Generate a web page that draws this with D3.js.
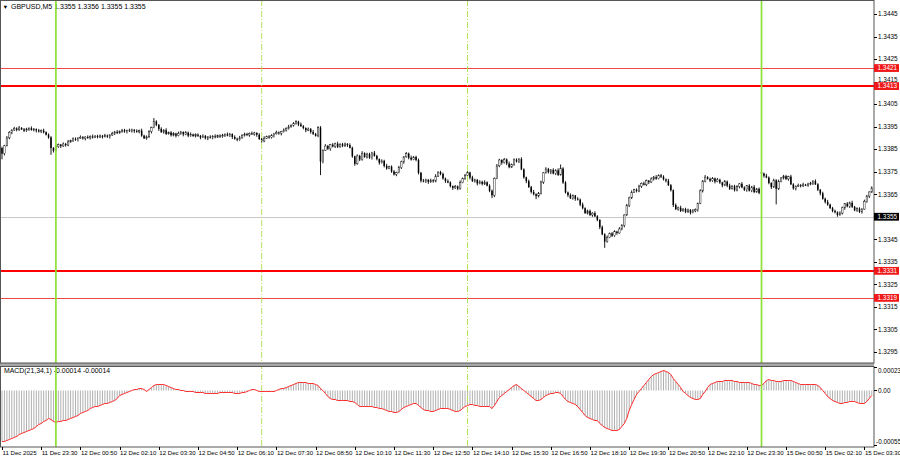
<!DOCTYPE html>
<html><head><meta charset="utf-8">
<script src="https://cdnjs.cloudflare.com/ajax/libs/d3/7.8.5/d3.min.js"></script>
<style>
body{margin:0;background:#fff}
svg{display:block}
text{font-family:"Liberation Sans",Arial,sans-serif}
</style></head>
<body><svg id="c" width="900" height="460"></svg>
<script>
// ---------- DATA ----------
const symbolTitle = "GBPUSD,M5";
const lastBarOHLC = ["1.3355","1.3356","1.3355","1.3355"];
const macdTitle = "MACD(21,34,1) -0.00014 -0.00014";

const timeLabels = ["11 Dec 2025","11 Dec 23:30","12 Dec 00:50","12 Dec 02:10","12 Dec 03:30","12 Dec 04:50","12 Dec 06:10","12 Dec 07:30","12 Dec 08:50","12 Dec 10:10","12 Dec 11:30","12 Dec 12:50","12 Dec 14:10","12 Dec 15:30","12 Dec 16:50","12 Dec 18:10","12 Dec 19:30","12 Dec 20:50","12 Dec 22:10","12 Dec 23:30","15 Dec 00:50","15 Dec 02:10","15 Dec 03:30"];
const daySeparators = ["12 Dec 00:00","15 Dec 00:00"];
const sessionMarks = ["12 Dec 07:00","12 Dec 14:00"];

const priceTicks = [1.3445,1.3435,1.3425,1.3415,1.3405,1.3395,1.3385,1.3375,1.3365,1.3355,1.3345,1.3335,1.3325,1.3315,1.3305,1.3295];
const strongLevels = [1.3413,1.3331];
const weakLevels = [1.3421,1.3319];
const bidPrice = 1.3355;
const macdTicks = [0.00023,0.00,-0.00055];
const macdTickLabels = ["0.00023","0.00","-0.00055"];

const open = [1.33855,1.33830,1.33865,1.33900,1.33925,1.33935,1.33942,1.33936,1.33944,1.33938,
1.33932,1.33939,1.33943,1.33935,1.33939,1.33933,1.33928,1.33932,1.33925,1.33914,
1.33902,1.33855,1.33843,1.33862,1.33870,1.33864,1.33873,1.33868,1.33882,1.33888,
1.33896,1.33892,1.33899,1.33903,1.33898,1.33904,1.33900,1.33906,1.33902,1.33908,
1.33904,1.33909,1.33905,1.33910,1.33906,1.33913,1.33920,1.33926,1.33922,1.33929,
1.33934,1.33928,1.33933,1.33930,1.33936,1.33931,1.33927,1.33932,1.33910,1.33898,
1.33905,1.33928,1.33946,1.33973,1.33958,1.33940,1.33926,1.33934,1.33918,1.33924,
1.33912,1.33919,1.33910,1.33920,1.33926,1.33916,1.33923,1.33910,1.33915,1.33908,
1.33914,1.33909,1.33902,1.33908,1.33899,1.33905,1.33901,1.33907,1.33903,1.33910,
1.33906,1.33912,1.33916,1.33910,1.33917,1.33904,1.33896,1.33892,1.33900,1.33912,
1.33917,1.33913,1.33920,1.33916,1.33922,1.33914,1.33895,1.33886,1.33898,1.33906,
1.33902,1.33910,1.33918,1.33924,1.33920,1.33928,1.33935,1.33942,1.33949,1.33956,
1.33964,1.33972,1.33960,1.33952,1.33944,1.33934,1.33939,1.33926,1.33918,1.33909,
1.33946,1.33795,1.33845,1.33864,1.33852,1.33870,1.33862,1.33874,1.33860,1.33872,
1.33865,1.33873,1.33868,1.33856,1.33818,1.33785,1.33820,1.33804,1.33832,1.33815,
1.33828,1.33812,1.33834,1.33820,1.33806,1.33790,1.33798,1.33776,1.33764,1.33772,
1.33751,1.33738,1.33746,1.33768,1.33794,1.33816,1.33830,1.33812,1.33804,1.33815,
1.33802,1.33745,1.33710,1.33706,1.33714,1.33705,1.33712,1.33708,1.33730,1.33748,
1.33740,1.33720,1.33708,1.33702,1.33686,1.33678,1.33684,1.33675,1.33702,1.33720,
1.33734,1.33746,1.33724,1.33708,1.33714,1.33698,1.33705,1.33696,1.33703,1.33688,
1.33665,1.33645,1.33720,1.33776,1.33802,1.33790,1.33804,1.33786,1.33770,1.33782,
1.33803,1.33796,1.33806,1.33760,1.33725,1.33708,1.33682,1.33660,1.33650,1.33642,
1.33654,1.33704,1.33745,1.33762,1.33748,1.33758,1.33742,1.33756,1.33736,1.33764,
1.33702,1.33658,1.33646,1.33632,1.33644,1.33630,1.33626,1.33604,1.33588,1.33566,
1.33576,1.33558,1.33566,1.33552,1.33536,1.33504,1.33472,1.33440,1.33458,1.33476,
1.33466,1.33484,1.33478,1.33496,1.33512,1.33558,1.33600,1.33634,1.33658,1.33670,
1.33664,1.33686,1.33698,1.33692,1.33710,1.33704,1.33718,1.33726,1.33719,1.33734,
1.33728,1.33716,1.33710,1.33690,1.33668,1.33602,1.33584,1.33590,1.33576,1.33584,
1.33572,1.33580,1.33568,1.33576,1.33582,1.33610,1.33665,1.33708,1.33726,1.33718,
1.33710,1.33720,1.33706,1.33714,1.33702,1.33690,1.33706,1.33688,1.33674,1.33686,
1.33668,1.33684,1.33696,1.33680,1.33670,1.33688,1.33666,1.33682,1.33660,1.33674,
1.33748,1.33742,1.33732,1.33724,1.33700,1.33682,1.33712,1.33674,1.33706,1.33722,
1.33730,1.33718,1.33728,1.33694,1.33676,1.33686,1.33690,1.33687,1.33692,1.33689,
1.33695,1.33699,1.33708,1.33694,1.33670,1.33654,1.33630,1.33616,1.33604,1.33588,
1.33576,1.33570,1.33558,1.33566,1.33590,1.33608,1.33596,1.33612,1.33594,1.33578,
1.33586,1.33572,1.33584,1.33618,1.33642,1.33660];

const high = [1.33861,1.33869,1.33908,1.33930,1.33938,1.33949,1.33947,1.33953,1.33948,1.33944,
1.33945,1.33947,1.33951,1.33944,1.33942,1.33940,1.33937,1.33941,1.33929,1.33920,
1.33908,1.33859,1.33870,1.33875,1.33873,1.33880,1.33878,1.33891,1.33892,1.33902,
1.33902,1.33903,1.33911,1.33908,1.33907,1.33911,1.33911,1.33915,1.33912,1.33914,
1.33915,1.33913,1.33918,1.33915,1.33916,1.33927,1.33931,1.33935,1.33933,1.33940,
1.33940,1.33937,1.33941,1.33941,1.33939,1.33938,1.33937,1.33941,1.33914,1.33911,
1.33934,1.33950,1.33988,1.33978,1.33961,1.33947,1.33939,1.33943,1.33928,1.33930,
1.33925,1.33923,1.33928,1.33931,1.33929,1.33930,1.33928,1.33924,1.33919,1.33920,
1.33920,1.33913,1.33916,1.33913,1.33908,1.33912,1.33912,1.33916,1.33914,1.33916,
1.33918,1.33920,1.33924,1.33922,1.33920,1.33911,1.33901,1.33909,1.33916,1.33923,
1.33923,1.33924,1.33928,1.33927,1.33925,1.33921,1.33900,1.33907,1.33910,1.33912,
1.33916,1.33922,1.33932,1.33929,1.33931,1.33942,1.33947,1.33958,1.33960,1.33970,
1.33978,1.33976,1.33968,1.33957,1.33947,1.33946,1.33944,1.33935,1.33922,1.33952,
1.33952,1.33849,1.33872,1.33869,1.33873,1.33877,1.33879,1.33883,1.33876,1.33878,
1.33879,1.33877,1.33876,1.33861,1.33821,1.33827,1.33825,1.33841,1.33836,1.33834,
1.33834,1.33838,1.33842,1.33825,1.33809,1.33805,1.33803,1.33785,1.33776,1.33778,
1.33757,1.33750,1.33776,1.33799,1.33819,1.33837,1.33835,1.33821,1.33819,1.33821,
1.33808,1.33749,1.33718,1.33719,1.33717,1.33719,1.33717,1.33739,1.33752,1.33754,
1.33746,1.33724,1.33716,1.33707,1.33689,1.33691,1.33689,1.33711,1.33724,1.33740,
1.33752,1.33750,1.33732,1.33719,1.33717,1.33712,1.33710,1.33712,1.33707,1.33694,
1.33671,1.33724,1.33784,1.33807,1.33805,1.33811,1.33809,1.33795,1.33786,1.33809,
1.33809,1.33810,1.33814,1.33765,1.33728,1.33715,1.33687,1.33669,1.33654,1.33660,
1.33710,1.33749,1.33770,1.33767,1.33761,1.33765,1.33761,1.33765,1.33782,1.33770,
1.33708,1.33662,1.33654,1.33649,1.33647,1.33637,1.33631,1.33613,1.33592,1.33582,
1.33582,1.33570,1.33574,1.33557,1.33539,1.33511,1.33477,1.33467,1.33480,1.33482,
1.33490,1.33488,1.33504,1.33517,1.33561,1.33607,1.33639,1.33667,1.33674,1.33676,
1.33692,1.33702,1.33706,1.33715,1.33713,1.33725,1.33731,1.33735,1.33738,1.33740,
1.33734,1.33720,1.33718,1.33695,1.33671,1.33609,1.33595,1.33599,1.33588,1.33590,
1.33586,1.33584,1.33584,1.33587,1.33613,1.33672,1.33713,1.33735,1.33730,1.33724,
1.33726,1.33724,1.33722,1.33719,1.33705,1.33713,1.33711,1.33697,1.33690,1.33692,
1.33690,1.33700,1.33704,1.33685,1.33691,1.33695,1.33687,1.33691,1.33678,1.33680,
1.33754,1.33746,1.33740,1.33729,1.33703,1.33719,1.33717,1.33715,1.33726,1.33736,
1.33736,1.33732,1.33736,1.33699,1.33689,1.33697,1.33695,1.33701,1.33696,1.33701,
1.33705,1.33712,1.33716,1.33699,1.33673,1.33661,1.33635,1.33625,1.33608,1.33594,
1.33582,1.33574,1.33574,1.33595,1.33611,1.33615,1.33617,1.33621,1.33598,1.33592,
1.33592,1.33588,1.33626,1.33647,1.33663,1.33685];

const low = [1.33805,1.33822,1.33862,1.33894,1.33916,1.33931,1.33929,1.33931,1.33935,1.33926,
1.33927,1.33931,1.33932,1.33929,1.33924,1.33924,1.33921,1.33920,1.33911,1.33896,
1.33825,1.33835,1.33840,1.33856,1.33855,1.33860,1.33861,1.33863,1.33879,1.33882,
1.33887,1.33884,1.33896,1.33892,1.33889,1.33896,1.33893,1.33897,1.33899,1.33898,
1.33899,1.33897,1.33902,1.33900,1.33897,1.33909,1.33913,1.33917,1.33919,1.33923,
1.33923,1.33920,1.33927,1.33924,1.33922,1.33923,1.33920,1.33905,1.33895,1.33892,
1.33900,1.33920,1.33943,1.33952,1.33931,1.33922,1.33919,1.33913,1.33915,1.33906,
1.33907,1.33902,1.33907,1.33914,1.33907,1.33912,1.33903,1.33905,1.33905,1.33902,
1.33904,1.33894,1.33899,1.33893,1.33890,1.33897,1.33894,1.33898,1.33900,1.33900,
1.33901,1.33904,1.33907,1.33904,1.33895,1.33892,1.33885,1.33887,1.33897,1.33906,
1.33908,1.33905,1.33913,1.33910,1.33905,1.33891,1.33879,1.33881,1.33895,1.33896,
1.33897,1.33902,1.33915,1.33914,1.33911,1.33924,1.33928,1.33937,1.33946,1.33950,
1.33959,1.33952,1.33949,1.33938,1.33925,1.33930,1.33919,1.33913,1.33906,1.33903,
1.33735,1.33787,1.33842,1.33846,1.33843,1.33858,1.33855,1.33855,1.33857,1.33859,
1.33860,1.33860,1.33853,1.33812,1.33776,1.33781,1.33797,1.33799,1.33812,1.33809,
1.33807,1.33804,1.33817,1.33800,1.33781,1.33786,1.33769,1.33759,1.33761,1.33745,
1.33733,1.33730,1.33743,1.33762,1.33785,1.33812,1.33805,1.33799,1.33801,1.33796,
1.33738,1.33702,1.33703,1.33700,1.33696,1.33701,1.33701,1.33703,1.33727,1.33734,
1.33715,1.33700,1.33699,1.33680,1.33669,1.33674,1.33668,1.33670,1.33699,1.33714,
1.33729,1.33716,1.33705,1.33702,1.33689,1.33694,1.33689,1.33691,1.33685,1.33659,
1.33633,1.33637,1.33717,1.33770,1.33781,1.33786,1.33779,1.33765,1.33767,1.33776,
1.33791,1.33788,1.33757,1.33719,1.33699,1.33678,1.33653,1.33645,1.33628,1.33636,
1.33649,1.33696,1.33742,1.33742,1.33739,1.33738,1.33735,1.33731,1.33733,1.33696,
1.33653,1.33638,1.33629,1.33626,1.33621,1.33622,1.33597,1.33583,1.33563,1.33560,
1.33553,1.33550,1.33549,1.33530,1.33495,1.33468,1.33412,1.33435,1.33455,1.33460,
1.33461,1.33470,1.33475,1.33490,1.33503,1.33554,1.33593,1.33629,1.33655,1.33658,
1.33659,1.33678,1.33689,1.33686,1.33695,1.33700,1.33711,1.33714,1.33716,1.33722,
1.33711,1.33702,1.33687,1.33662,1.33593,1.33580,1.33577,1.33571,1.33573,1.33566,
1.33567,1.33560,1.33565,1.33570,1.33573,1.33606,1.33658,1.33703,1.33715,1.33704,
1.33705,1.33698,1.33703,1.33696,1.33681,1.33686,1.33681,1.33669,1.33671,1.33662,
1.33663,1.33676,1.33677,1.33664,1.33661,1.33662,1.33659,1.33655,1.33657,1.33650,
1.33737,1.33724,1.33721,1.33694,1.33673,1.33678,1.33605,1.33669,1.33703,1.33716,
1.33713,1.33710,1.33691,1.33670,1.33667,1.33682,1.33680,1.33682,1.33686,1.33683,
1.33690,1.33691,1.33691,1.33664,1.33645,1.33626,1.33609,1.33599,1.33585,1.33570,
1.33565,1.33550,1.33555,1.33560,1.33581,1.33592,1.33589,1.33589,1.33575,1.33572,
1.33567,1.33564,1.33581,1.33612,1.33633,1.33656];

const close = [1.33830,1.33865,1.33900,1.33925,1.33935,1.33942,1.33936,1.33944,1.33938,1.33932,
1.33939,1.33943,1.33935,1.33939,1.33933,1.33928,1.33932,1.33925,1.33914,1.33902,
1.33855,1.33843,1.33862,1.33870,1.33864,1.33873,1.33868,1.33882,1.33888,1.33896,
1.33892,1.33899,1.33903,1.33898,1.33904,1.33900,1.33906,1.33902,1.33908,1.33904,
1.33909,1.33905,1.33910,1.33906,1.33913,1.33920,1.33926,1.33922,1.33929,1.33934,
1.33928,1.33933,1.33930,1.33936,1.33931,1.33927,1.33932,1.33910,1.33898,1.33905,
1.33928,1.33946,1.33973,1.33958,1.33940,1.33926,1.33934,1.33918,1.33924,1.33912,
1.33919,1.33910,1.33920,1.33926,1.33916,1.33923,1.33910,1.33915,1.33908,1.33914,
1.33909,1.33902,1.33908,1.33899,1.33905,1.33901,1.33907,1.33903,1.33910,1.33906,
1.33912,1.33916,1.33910,1.33917,1.33904,1.33896,1.33892,1.33900,1.33912,1.33917,
1.33913,1.33920,1.33916,1.33922,1.33914,1.33895,1.33886,1.33898,1.33906,1.33902,
1.33910,1.33918,1.33924,1.33920,1.33928,1.33935,1.33942,1.33949,1.33956,1.33964,
1.33972,1.33960,1.33952,1.33944,1.33934,1.33939,1.33926,1.33918,1.33909,1.33946,
1.33795,1.33845,1.33864,1.33852,1.33870,1.33862,1.33874,1.33860,1.33872,1.33865,
1.33873,1.33868,1.33856,1.33818,1.33785,1.33820,1.33804,1.33832,1.33815,1.33828,
1.33812,1.33834,1.33820,1.33806,1.33790,1.33798,1.33776,1.33764,1.33772,1.33751,
1.33738,1.33746,1.33768,1.33794,1.33816,1.33830,1.33812,1.33804,1.33815,1.33802,
1.33745,1.33710,1.33706,1.33714,1.33705,1.33712,1.33708,1.33730,1.33748,1.33740,
1.33720,1.33708,1.33702,1.33686,1.33678,1.33684,1.33675,1.33702,1.33720,1.33734,
1.33746,1.33724,1.33708,1.33714,1.33698,1.33705,1.33696,1.33703,1.33688,1.33665,
1.33645,1.33720,1.33776,1.33802,1.33790,1.33804,1.33786,1.33770,1.33782,1.33803,
1.33796,1.33806,1.33760,1.33725,1.33708,1.33682,1.33660,1.33650,1.33642,1.33654,
1.33704,1.33745,1.33762,1.33748,1.33758,1.33742,1.33756,1.33736,1.33764,1.33702,
1.33658,1.33646,1.33632,1.33644,1.33630,1.33626,1.33604,1.33588,1.33566,1.33576,
1.33558,1.33566,1.33552,1.33536,1.33504,1.33472,1.33440,1.33458,1.33476,1.33466,
1.33484,1.33478,1.33496,1.33512,1.33558,1.33600,1.33634,1.33658,1.33670,1.33664,
1.33686,1.33698,1.33692,1.33710,1.33704,1.33718,1.33726,1.33719,1.33734,1.33728,
1.33716,1.33710,1.33690,1.33668,1.33602,1.33584,1.33590,1.33576,1.33584,1.33572,
1.33580,1.33568,1.33576,1.33582,1.33610,1.33665,1.33708,1.33726,1.33718,1.33710,
1.33720,1.33706,1.33714,1.33702,1.33690,1.33706,1.33688,1.33674,1.33686,1.33668,
1.33684,1.33696,1.33680,1.33670,1.33688,1.33666,1.33682,1.33660,1.33674,1.33656,
1.33742,1.33732,1.33724,1.33700,1.33682,1.33712,1.33674,1.33706,1.33722,1.33730,
1.33718,1.33728,1.33694,1.33676,1.33686,1.33690,1.33687,1.33692,1.33689,1.33695,
1.33699,1.33708,1.33694,1.33670,1.33654,1.33630,1.33616,1.33604,1.33588,1.33576,
1.33570,1.33558,1.33566,1.33590,1.33608,1.33596,1.33612,1.33594,1.33578,1.33586,
1.33572,1.33584,1.33618,1.33642,1.33660,1.33678];

const macd = [-0.00051,-0.00051,-0.00050,-0.00049,-0.00048,-0.00047,-0.00046,-0.00044,-0.00043,-0.00042,
-0.00041,-0.00040,-0.00039,-0.00038,-0.00036,-0.00034,-0.00033,-0.00031,-0.00030,-0.00028,
-0.00029,-0.00031,-0.00032,-0.00031,-0.00031,-0.00030,-0.00030,-0.00029,-0.00028,-0.00027,
-0.00026,-0.00025,-0.00023,-0.00022,-0.00021,-0.00020,-0.00018,-0.00017,-0.00016,-0.00016,
-0.00015,-0.00014,-0.00013,-0.00013,-0.00012,-0.00011,-0.00010,-0.00008,-0.00005,-0.00004,
-0.00003,-0.00002,-0.00001,0.00000,0.00001,0.00001,0.00002,0.00002,0.00001,-0.00001,
0.00001,0.00003,0.00005,0.00006,0.00006,0.00006,0.00006,0.00005,0.00004,0.00003,
0.00002,0.00001,0.00001,0.00000,0.00000,-0.00001,-0.00001,-0.00001,-0.00001,-0.00002,
-0.00002,-0.00002,-0.00002,-0.00003,-0.00003,-0.00003,-0.00003,-0.00003,-0.00003,-0.00002,
-0.00002,-0.00002,-0.00002,-0.00002,-0.00002,-0.00003,-0.00003,-0.00003,-0.00002,-0.00002,
-0.00001,0.00000,0.00001,0.00001,0.00000,-0.00001,-0.00001,-0.00001,-0.00001,-0.00001,
-0.00001,-0.00001,0.00000,0.00001,0.00002,0.00002,0.00003,0.00004,0.00005,0.00006,
0.00007,0.00008,0.00008,0.00008,0.00008,0.00007,0.00007,0.00007,0.00006,0.00005,
0.00002,0.00000,-0.00003,-0.00006,-0.00008,-0.00009,-0.00009,-0.00010,-0.00010,-0.00010,
-0.00010,-0.00010,-0.00011,-0.00011,-0.00012,-0.00014,-0.00016,-0.00016,-0.00016,-0.00016,
-0.00016,-0.00016,-0.00017,-0.00017,-0.00018,-0.00018,-0.00019,-0.00020,-0.00021,-0.00021,
-0.00022,-0.00022,-0.00021,-0.00019,-0.00017,-0.00016,-0.00015,-0.00014,-0.00013,-0.00013,
-0.00015,-0.00017,-0.00019,-0.00020,-0.00020,-0.00021,-0.00021,-0.00020,-0.00019,-0.00018,
-0.00018,-0.00018,-0.00018,-0.00019,-0.00020,-0.00021,-0.00021,-0.00020,-0.00018,-0.00016,
-0.00015,-0.00014,-0.00014,-0.00015,-0.00015,-0.00016,-0.00016,-0.00016,-0.00016,-0.00016,
-0.00018,-0.00015,-0.00011,-0.00007,-0.00005,-0.00003,-0.00001,0.00001,0.00003,0.00005,
0.00006,0.00004,0.00002,0.00000,-0.00002,-0.00004,-0.00006,-0.00008,-0.00010,-0.00010,
-0.00009,-0.00007,-0.00005,-0.00004,-0.00003,-0.00003,-0.00002,-0.00002,-0.00003,-0.00006,
-0.00009,-0.00011,-0.00012,-0.00013,-0.00014,-0.00016,-0.00019,-0.00022,-0.00025,-0.00027,
-0.00028,-0.00029,-0.00030,-0.00030,-0.00033,-0.00035,-0.00037,-0.00038,-0.00039,-0.00040,
-0.00040,-0.00040,-0.00039,-0.00036,-0.00033,-0.00028,-0.00020,-0.00014,-0.00009,-0.00004,
-0.00001,0.00002,0.00005,0.00008,0.00011,0.00014,0.00016,0.00017,0.00018,0.00019,
0.00020,0.00019,0.00018,0.00016,0.00012,0.00009,0.00006,0.00003,-0.00001,-0.00003,
-0.00005,-0.00007,-0.00008,-0.00009,-0.00009,-0.00008,-0.00004,-0.00001,0.00003,0.00006,
0.00007,0.00008,0.00009,0.00009,0.00009,0.00010,0.00010,0.00010,0.00010,0.00009,
0.00009,0.00008,0.00008,0.00008,0.00008,0.00008,0.00007,0.00006,0.00006,0.00005,
0.00005,0.00007,0.00010,0.00011,0.00010,0.00010,0.00009,0.00009,0.00009,0.00010,
0.00010,0.00010,0.00010,0.00009,0.00008,0.00007,0.00006,0.00006,0.00006,0.00006,
0.00006,0.00006,0.00006,0.00005,0.00003,0.00000,-0.00003,-0.00006,-0.00008,-0.00010,
-0.00011,-0.00012,-0.00013,-0.00013,-0.00012,-0.00012,-0.00011,-0.00011,-0.00011,-0.00012,
-0.00013,-0.00013,-0.00013,-0.00011,-0.00008,-0.00005];

// ---------- LAYOUT ----------
const plotR = 874, mainB = 363, macdT = 366, macdB = 447;
const n = close.length;
const svg = d3.select("#c");
const FS = 6.4;

// bar times (category axis): 5-minute bars, weekend gap skipped
const start = Date.UTC(2025,11,11,22,10);
const barTimes = d3.range(n).map(i => {
  let t = start + i*5*60000;
  if (t >= Date.UTC(2025,11,13)) t += 2*86400000;
  return new Date(t);
});
const fmt = d3.utcFormat("%d %b %H:%M");
const idxOf = s => barTimes.findIndex(t => fmt(t) === s);

const x = d3.scaleLinear().domain([0, n-1]).range([2, 2 + (n-1)*2.45]);
const y = d3.scaleLinear().domain([1.32901, 1.34512]).range([mainB, 0]);
const ym = d3.scaleLinear().domain([-0.00055, 0.00023]).range([445.5, 367.5]);

svg.append("rect").attr("width",900).attr("height",460).attr("fill","#fff");

// header texts
svg.append("text").attr("x",2.5).attr("y",8.5).attr("font-size",5.8).attr("fill","#000").text("\u25BC");
svg.append("text").attr("x",11).attr("y",8.8).attr("font-size",7).attr("fill","#000")
  .text(symbolTitle + "  " + lastBarOHLC.join(" "));
svg.append("text").attr("x",4).attr("y",373).attr("font-size",6.9).attr("fill","#000").text(macdTitle);

// horizontal levels
const gL = svg.append("g");
gL.selectAll("line.w").data(weakLevels).join("line")
  .attr("x1",0).attr("x2",plotR).attr("y1",d=>Math.round(y(d))+0.5).attr("y2",d=>Math.round(y(d))+0.5)
  .attr("stroke","#f04848").attr("stroke-width",1);
gL.selectAll("line.s").data(strongLevels).join("line")
  .attr("x1",0).attr("x2",plotR).attr("y1",d=>Math.round(y(d))).attr("y2",d=>Math.round(y(d)))
  .attr("stroke","#ff0000").attr("stroke-width",2);
gL.append("line").attr("x1",0).attr("x2",plotR)
  .attr("y1",Math.round(y(bidPrice))+0.5).attr("y2",Math.round(y(bidPrice))+0.5)
  .attr("stroke","#c8c8c8").attr("stroke-width",1);

// candles
const bw = 1.5;
const gC = svg.append("g");
gC.selectAll("line").data(d3.range(n)).join("line")
  .attr("x1",i=>x(i)).attr("x2",i=>x(i)).attr("y1",i=>y(high[i])).attr("y2",i=>y(low[i]))
  .attr("stroke","#000").attr("stroke-width",0.9);
gC.selectAll("rect").data(d3.range(n)).join("rect")
  .attr("x",i=>x(i)-bw/2).attr("width",bw)
  .attr("y",i=>y(Math.max(open[i],close[i])))
  .attr("height",i=>Math.max(0.8, Math.abs(y(open[i])-y(close[i]))))
  .attr("fill",i=>close[i]>=open[i]?"#fff":"#000")
  .attr("stroke",i=>close[i]>=open[i]?"#222":"none").attr("stroke-width",0.5);

// MACD histogram + line
const gM = svg.append("g");
gM.selectAll("line").data(d3.range(n)).join("line")
  .attr("x1",i=>x(i)).attr("x2",i=>x(i)).attr("y1",ym(0)).attr("y2",i=>ym(macd[i]))
  .attr("stroke","#b0b0b0").attr("stroke-width",1);
gM.append("path").datum(d3.range(n))
  .attr("d", d3.line().x(i=>x(i)).y(i=>ym(macd[i])))
  .attr("fill","none").attr("stroke","#ff2a2a").attr("stroke-width",1);

// vertical markers
const gV = svg.append("g");
gV.selectAll("line.d").data(daySeparators.map(idxOf)).join("line")
  .attr("x1",i=>x(i)).attr("x2",i=>x(i)).attr("y1",0).attr("y2",macdB)
  .attr("stroke","#8ee036").attr("stroke-width",1.7);
gV.selectAll("line.s").data(sessionMarks.map(idxOf)).join("line")
  .attr("x1",i=>x(i)).attr("x2",i=>x(i)).attr("y1",0).attr("y2",macdB)
  .attr("stroke","#b2e45a").attr("stroke-width",1).attr("stroke-dasharray","6,2,1,2");

// separator band and frames
svg.append("rect").attr("x",0).attr("y",mainB).attr("width",plotR).attr("height",macdT-mainB).attr("fill","#a8a8a8");
svg.append("rect").attr("x",0.5).attr("y",0.5).attr("width",plotR-0.5).attr("height",mainB-0.5)
  .attr("fill","none").attr("stroke","#555").attr("stroke-width",1);
svg.append("rect").attr("x",0.5).attr("y",macdT+0.5).attr("width",plotR-0.5).attr("height",macdB-macdT-0.5)
  .attr("fill","none").attr("stroke","#555").attr("stroke-width",1);

// price axis
const fmt4 = d3.format(".4f");
const tagPrices = weakLevels.concat(strongLevels);
const TAGH = 7.8;
// keep a tick label just clear of a nearby level tag (it sits tucked against it, as in the terminal)
function labelBase(d){
  let base = y(d) + 2.3;
  tagPrices.forEach(p => {
    const ty = y(p);
    if (ty !== undefined && Math.abs(ty - y(d)) > 0.5 && Math.abs(ty - y(d)) < 7) {
      if (y(d) < ty) base = Math.min(base, ty - TAGH/2 - 0.6);
      else base = Math.max(base, ty + TAGH/2 + 5.2);
    }
  });
  return base;
}
const gA = svg.append("g");
gA.selectAll("line").data(priceTicks).join("line")
  .attr("x1",plotR).attr("x2",plotR+3).attr("y1",d=>Math.round(y(d))+0.5).attr("y2",d=>Math.round(y(d))+0.5)
  .attr("stroke","#000");
gA.selectAll("text").data(priceTicks.filter(d => d !== bidPrice)).join("text")
  .attr("x",plotR+4).attr("y",labelBase).attr("font-size",FS).attr("fill","#000").text(fmt4);

function tag(price, bg){
  const g = svg.append("g");
  const yy = y(price);
  g.append("rect").attr("x",plotR).attr("y",yy-TAGH/2).attr("width",25).attr("height",TAGH).attr("fill",bg);
  g.append("text").attr("x",plotR+3.5).attr("y",yy+2.3).attr("font-size",FS).attr("fill","#fff").text(fmt4(price));
}
tagPrices.forEach(p => tag(p, "#f01818"));
tag(bidPrice, "#000");

// MACD axis (labels kept inside the panel like the terminal does)
const gMA = svg.append("g");
gMA.selectAll("line").data(macdTicks).join("line")
  .attr("x1",plotR).attr("x2",plotR+3).attr("y1",d=>ym(d)).attr("y2",d=>ym(d)).attr("stroke","#000");
gMA.selectAll("text").data(macdTicks).join("text")
  .attr("x",(d,k)=> k===2 ? plotR+2 : plotR+4)
  .attr("y",(d,k)=> Math.min(Math.max(ym(d)+2.3, 372.5), 444))
  .attr("font-size",FS).attr("fill","#000")
  .text((d,k)=>macdTickLabels[k]);

// time axis
const labelIdx = timeLabels.map((l,k) => k===0 ? 0 : idxOf(l));
const gT = svg.append("g");
gT.selectAll("line").data(labelIdx).join("line")
  .attr("x1",i=>Math.round(x(i))+0.5).attr("x2",i=>Math.round(x(i))+0.5).attr("y1",macdB).attr("y2",macdB+3)
  .attr("stroke","#000");
gT.selectAll("text").data(timeLabels).join("text")
  .attr("x",(d,k)=>x(labelIdx[k])+0.5).attr("y",455).attr("font-size",6.1).attr("fill","#000").text(d=>d);
</script>
</body></html>
